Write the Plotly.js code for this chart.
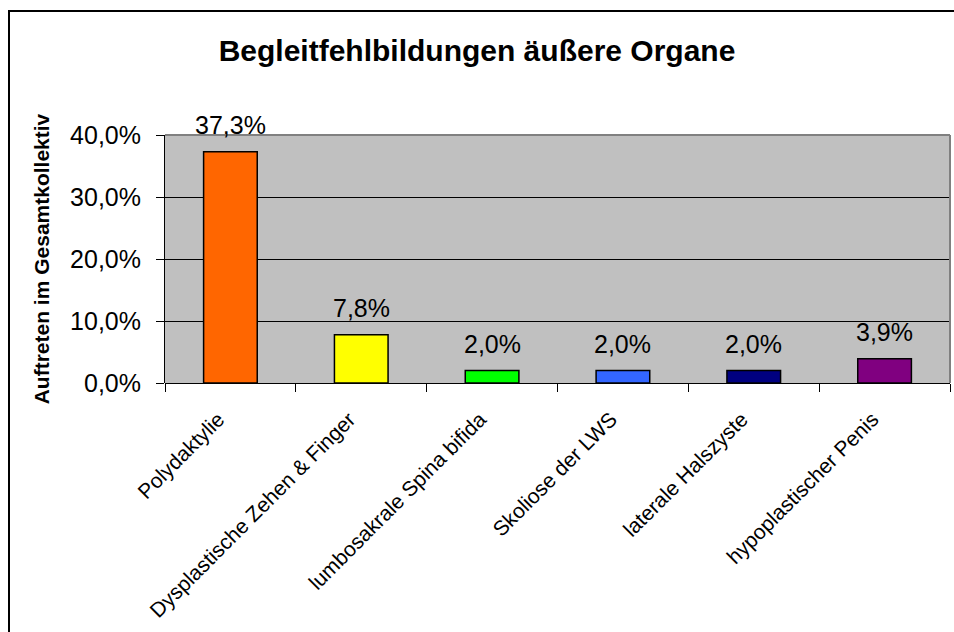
<!DOCTYPE html>
<html>
<head>
<meta charset="utf-8">
<script src="https://cdn.plot.ly/plotly-3.0.1.min.js"></script>
<style>
  html, body { margin: 0; padding: 0; background: #fff; overflow: hidden; }
  #wrap { position: relative; width: 954px; height: 632px; overflow: hidden; }
  #chart { position: absolute; left: 0; top: 0; width: 954px; height: 632px; }
  #frame { position: absolute; left: 8px; top: 10px; width: 946px; height: 622px;
           border-left: 2px solid #000; border-top: 2px solid #000; pointer-events: none;
           box-sizing: border-box; }
</style>
</head>
<body>
<div id="wrap">
  <div id="chart"></div>
  <div id="frame"></div>
</div>
<script>
const categories = [
  "Polydaktylie",
  "Dysplastische Zehen & Finger",
  "lumbosakrale Spina bifida",
  "Skoliose der LWS",
  "laterale Halszyste",
  "hypoplastischer Penis"
];
const values = [37.3, 7.8, 2.0, 2.0, 2.0, 3.9];
const barColors = ["#FF6600", "#FFFF00", "#00FF00", "#3366FF", "#000080", "#800080"];
const yTickValues = [0, 10, 20, 30, 40];
const yTickLabels = ["0,0%", "10,0%", "20,0%", "30,0%", "40,0%"];

const FONT = "Liberation Sans, Arial, sans-serif";

const trace = {
  type: "bar",
  x: categories,
  y: values,
  marker: { color: barColors, line: { color: "#000", width: 1.5 } },
  hoverinfo: "skip"
};

const annotations = categories.map((c, i) => ({
  x: c, y: values[i], xref: "x", yref: "y",
  text: values[i].toFixed(1).replace(".", ",") + "%",
  showarrow: false, yanchor: "bottom", yshift: 11,
  font: { family: FONT, size: 25, color: "#000" }
}));

const layout = {
  width: 954, height: 632,
  margin: { l: 165, r: 4, t: 135, b: 249, pad: 0 },
  paper_bgcolor: "#fff",
  plot_bgcolor: "#C0C0C0",
  separators: ",.",
  showlegend: false,
  bargap: 0.59,
  title: {
    text: "<b>Begleitfehlbildungen äußere Organe</b>",
    font: { family: FONT, size: 30, color: "#000" },
    x: 0.5, xref: "container", xanchor: "center",
    y: 0.92, yref: "container", yanchor: "middle"
  },
  xaxis: {
    type: "category",
    tickson: "boundaries",
    ticks: "outside", ticklen: 8, tickcolor: "#000", tickwidth: 1,
    showline: false,
    tickangle: -45,
    ticklabelstandoff: 19,
    ticklabelshift: -12,
    tickfont: { family: FONT, size: 21, color: "#000" },
    showgrid: false, zeroline: false,
    fixedrange: true
  },
  yaxis: {
    range: [0, 40],
    tickmode: "array",
    tickvals: yTickValues,
    ticktext: yTickLabels,
    ticks: "outside", ticklen: 8, tickcolor: "#000", tickwidth: 1,
    ticklabelstandoff: 10,
    showline: true, linecolor: "#000", linewidth: 1,
    showgrid: true, gridcolor: "#000", gridwidth: 1,
    zeroline: true, zerolinecolor: "#000", zerolinewidth: 1,
    tickfont: { family: FONT, size: 25, color: "#000" },
    title: {
      text: "<b>Auftreten im Gesamtkollektiv</b>",
      font: { family: FONT, size: 21, color: "#000" },
      standoff: 14
    },
    fixedrange: true
  },
  shapes: [
    { type: "line", xref: "paper", yref: "paper", x0: 0, x1: 1, y0: 1, y1: 1,
      line: { color: "#808080", width: 2 } },
    { type: "line", xref: "paper", yref: "paper", x0: 1, x1: 1, y0: 0, y1: 1,
      line: { color: "#808080", width: 2 } }
  ],
  annotations: annotations
};

Plotly.newPlot("chart", [trace], layout, { displayModeBar: false, staticPlot: true });
</script>
</body>
</html>
